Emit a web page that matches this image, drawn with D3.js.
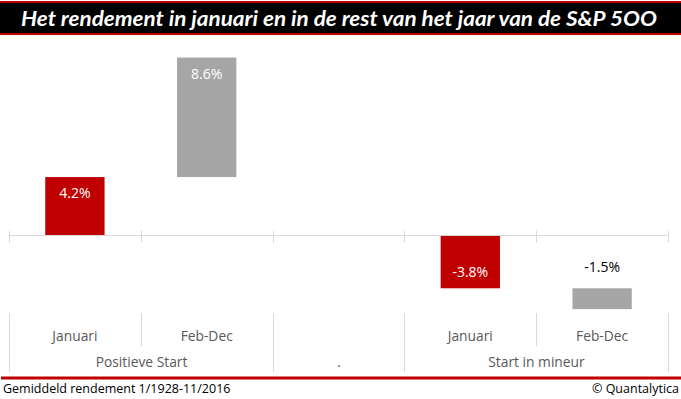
<!DOCTYPE html>
<html>
<head>
<meta charset="utf-8">
<script src="https://cdn.jsdelivr.net/npm/d3@7"></script>
<style>
html,body{margin:0;padding:0;background:#fff;}
svg{display:block;}
</style>
</head>
<body>
<svg id="chart" width="681" height="399"></svg>
<script>
// ---- data ----
const titleText = "Het rendement in januari en in de rest van het jaar van de S&P 5OO";
const categories = ["Januari", "Feb-Dec", "", "Januari", "Feb-Dec"];
const values = [4.2, 8.6, null, -3.8, -1.5];
const bases = [0, 4.2, null, 0, -3.8];
const barKinds = ["jan", "rest", null, "jan", "rest"];
const groups = ["Positieve Start", ".", "Start in mineur"];
const groupSpans = [2, 1, 2];
const footLeft = "Gemiddeld rendement 1/1928-11/2016";
const footRight = "\u00a9 Quantalytica";

const W = 681, H = 399;
const RED = "#c00000", GREY = "#a6a6a6", GRID = "#d9d9d9", TXT = "#595959";
const svg = d3.select("#chart");

// title bar
svg.append("rect").attr("x",0).attr("y",1).attr("width",W).attr("height",34).attr("fill",RED);
svg.append("rect").attr("x",0).attr("y",3).attr("width",W).attr("height",30).attr("fill","#000");
svg.append("text").attr("x",21).attr("y",26)
  .attr("font-family","Lato, 'Open Sans', sans-serif").attr("font-weight","bold").attr("font-style","italic")
  .attr("font-size",20).attr("fill","#fff")
  .attr("textLength",636).attr("lengthAdjust","spacingAndGlyphs")
  .text(titleText);

// scales
const idx = categories.map((d,i)=>i);
const x = d3.scaleBand().domain(idx).range([9,668]).paddingInner(0.55).paddingOuter(0.275);
const y = d3.scaleLinear().domain([-5.6, 13.4]).range([313.3, 49.2]);
const step = x.step();
const left = 9, right = 668;

// bars
const data = idx.filter(i=>values[i]!==null).map(i=>({i, v:values[i], b:bases[i], kind:barKinds[i]}));
svg.append("g").selectAll("rect").data(data).join("rect")
  .attr("x", d=>x(d.i))
  .attr("width", x.bandwidth())
  .attr("y", d=>y(Math.max(d.b, d.b+d.v)))
  .attr("height", d=>Math.abs(y(d.b)-y(d.b+d.v)))
  .attr("fill", d=>d.kind==="jan"?RED:GREY);

// zero axis line + cross ticks
const y0 = Math.floor(y(0))+0.5;
svg.append("line").attr("x1",left).attr("x2",right).attr("y1",y0).attr("y2",y0)
  .attr("stroke",GRID).attr("stroke-width",1);
const bounds = d3.range(categories.length+1).map(k=>Math.round(left + k*step)+0.5);
svg.append("g").selectAll("line").data(bounds).join("line")
  .attr("x1",d=>d).attr("x2",d=>d).attr("y1",y0-5).attr("y2",y0+7)
  .attr("stroke",GRID).attr("stroke-width",1);

// data labels
svg.append("g").selectAll("text").data(data).join("text")
  .attr("x", d=>x(d.i)+x.bandwidth()/2)
  .attr("y", d=>{
    const top = y(Math.max(d.b,d.b+d.v)), bot = y(Math.min(d.b,d.b+d.v));
    const h = bot-top;
    if (h < 30) return top - 21 + 5;
    return d.v >= 0 ? top + 16 + 5 : bot - 16 + 5;
  })
  .attr("text-anchor","middle")
  .attr("font-family","'Open Sans', sans-serif").attr("font-size",14)
  .attr("fill", d=>{
    const h = Math.abs(y(d.b)-y(d.b+d.v));
    return h < 30 ? "#000" : "#fff";
  })
  .text(d=>d.v.toFixed(1)+"%");

// category axis area
const catTop = 313;
let pos = 0;
const groupBounds = [0];
groupSpans.forEach(s=>{pos+=s; groupBounds.push(pos);});
const subBounds = d3.range(categories.length+1).filter(k=>!groupBounds.includes(k));
svg.append("g").selectAll("line").data(groupBounds).join("line")
  .attr("x1",k=>bounds[k]).attr("x2",k=>bounds[k]).attr("y1",catTop).attr("y2",372)
  .attr("stroke",GRID);
svg.append("g").selectAll("line").data(subBounds).join("line")
  .attr("x1",k=>bounds[k]).attr("x2",k=>bounds[k]).attr("y1",catTop).attr("y2",346)
  .attr("stroke",GRID);

svg.append("g").selectAll("text").data(idx).join("text")
  .attr("x", i=>x(i)+x.bandwidth()/2).attr("y",341)
  .attr("text-anchor","middle")
  .attr("font-family","'Open Sans', sans-serif").attr("font-size",13.8).attr("fill",TXT)
  .text(i=>categories[i]);

svg.append("g").selectAll("text").data(groups).join("text")
  .attr("x",(g,k)=>(bounds[groupBounds[k]]+bounds[groupBounds[k+1]])/2).attr("y",367)
  .attr("text-anchor","middle")
  .attr("font-family","'Open Sans', sans-serif").attr("font-size",13.8).attr("fill",TXT)
  .text(g=>g);

// footer
svg.append("rect").attr("x",1).attr("y",376.5).attr("width",W-1).attr("height",3).attr("fill",RED);
svg.append("text").attr("x",3).attr("y",393)
  .attr("font-family","'Open Sans', sans-serif").attr("font-size",12.5).attr("fill","#000")
  .text(footLeft);
svg.append("text").attr("x",679).attr("y",393).attr("text-anchor","end")
  .attr("font-family","'Open Sans', sans-serif").attr("font-size",12.5).attr("fill","#000")
  .text(footRight);
</script>
</body>
</html>
